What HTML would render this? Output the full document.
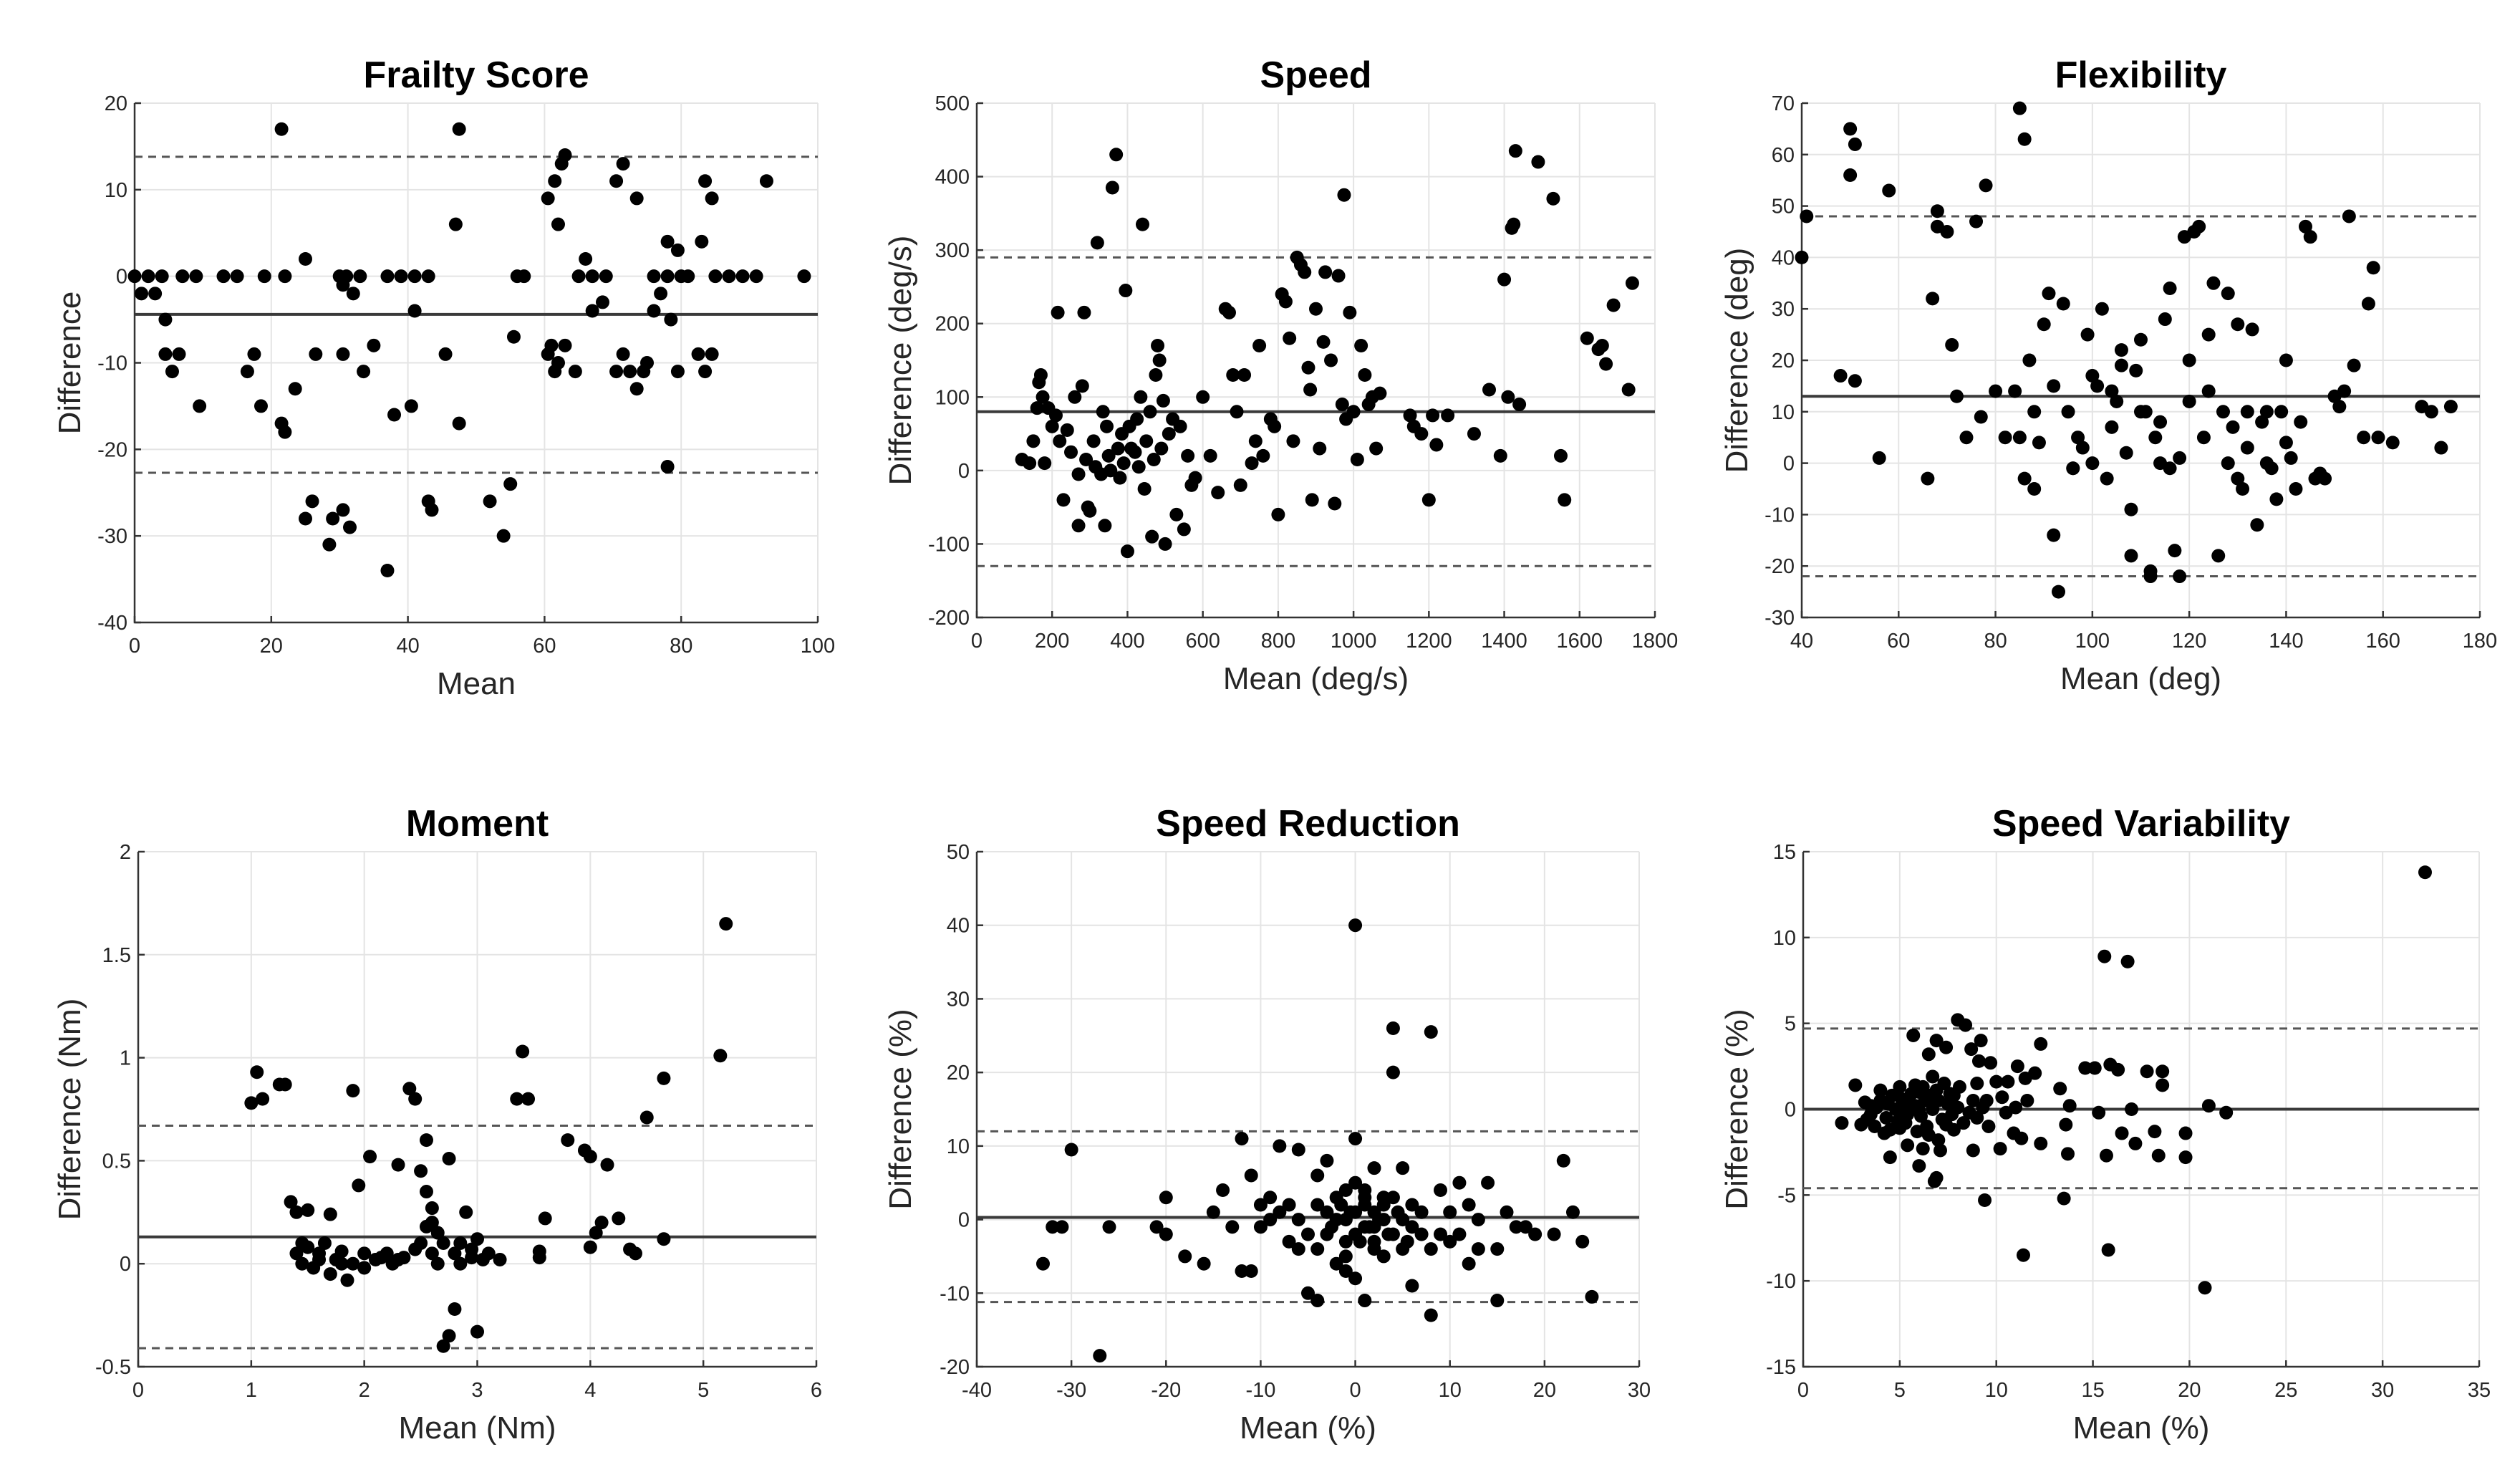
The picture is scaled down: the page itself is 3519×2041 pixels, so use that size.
<!DOCTYPE html>
<html><head><meta charset="utf-8"><style>
html,body{margin:0;padding:0;background:#fff}
svg{display:block;font-family:"Liberation Sans",Arial,sans-serif}
</style></head><body>
<svg id="fig" width="3519" height="2041" viewBox="0 0 3519 2041" xmlns="http://www.w3.org/2000/svg"></svg>
<script>
// ---- data arrays ----
const frailtyX=[0,1,2,3,4,4.5,4.5,5.5,6.5,7,9,9.5,13,15,16.5,17.5,18.5,19,21.5,21.5,22,22,23.5,25,25,26,26.5,28.5,29,30,30.5,30.5,30.5,31,31.5,32,33,33.5,35,37,37,38,39,40.5,41,41,43,43,43.5,45.5,47,47.5,47.5,52,54,55,55.5,56,57,60.5,60.5,61,61.5,61.5,62,62,62.5,63,63,64.5,65,66,67,67,68.5,69,70.5,70.5,71.5,71.5,72.5,73.5,73.5,74.5,75,76,76,77,78,78,78,78.5,79.5,79.5,80,81,82.5,83,83.5,83.5,84.5,84.5,85,87,89,91,92.5,98];
const frailtyY=[0,-2,0,-2,0,-5,-9,-11,-9,0,0,-15,0,0,-11,-9,-15,0,17,-17,-18,0,-13,2,-28,-26,-9,-31,-28,0,-1,-9,-27,0,-29,-2,0,-11,-8,0,-34,-16,0,-15,0,-4,0,-26,-27,-9,6,17,-17,-26,-30,-24,-7,0,0,9,-9,-8,11,-11,6,-10,13,14,-8,-11,0,2,0,-4,-3,0,11,-11,13,-9,-11,9,-13,-11,-10,0,-4,-2,4,0,-22,-5,3,-11,0,0,-9,4,11,-11,9,-9,0,0,0,0,11,0];
const frailtyLines=[-4.4,13.8,-22.7];

const speedX=[120,140,150,160,165,170,175,180,190,200,210,215,220,230,240,250,260,270,270,280,285,290,295,300,310,315,320,330,335,340,345,350,355,360,370,375,380,385,390,395,400,405,410,420,425,430,435,440,445,450,460,465,470,475,480,485,490,495,500,510,520,530,540,550,560,570,580,600,620,640,660,670,680,690,700,710,730,740,750,760,780,790,800,810,820,830,840,850,860,870,880,885,890,900,910,920,925,940,950,960,970,975,980,990,1000,1010,1020,1030,1040,1050,1060,1070,1150,1160,1180,1200,1210,1220,1250,1320,1360,1390,1400,1410,1420,1425,1430,1440,1490,1530,1550,1560,1620,1650,1670,1690,1730,1740,1660];
const speedY=[15,10,40,85,120,130,100,10,85,60,75,215,40,-40,55,25,100,-5,-75,115,215,15,-50,-55,40,5,310,-5,80,-75,60,20,0,385,430,30,-10,50,10,245,-110,60,30,25,70,5,100,335,-25,40,80,-90,15,130,170,150,30,95,-100,50,70,-60,60,-80,20,-20,-10,100,20,-30,220,215,130,80,-20,130,10,40,170,20,70,60,-60,240,230,180,40,290,280,270,140,110,-40,220,30,175,270,150,-45,265,90,375,70,215,80,15,170,130,90,100,30,105,75,60,50,-40,75,35,75,50,110,20,260,100,330,335,435,90,420,370,20,-40,180,165,145,225,110,255,170];
const speedLines=[80,290,-130];

const flexX=[40,41,48,50,50,51,51,56,58,66,67,68,68,70,71,72,74,76,77,78,85,86,84,85,86,87,88,88,89,90,91,92,93,94,95,96,97,98,99,100,101,102,103,104,105,106,107,108,108,109,110,111,112,112,113,114,115,116,117,118,119,120,121,122,123,124,125,126,127,128,129,130,131,132,133,134,135,136,137,138,139,140,141,142,143,144,145,146,148,150,151,152,153,154,156,157,158,159,162,168,170,172,174,80,82,92,96,100,104,106,110,114,116,118,120,124,128,130,132,136,140,147];
const flexY=[40,48,17,65,56,62,16,1,53,-3,32,49,46,45,23,13,5,47,9,54,69,63,14,5,-3,20,10,-5,4,27,33,-14,-25,31,10,-1,5,3,25,0,15,30,-3,7,12,22,2,-9,-18,18,24,10,-21,-22,5,8,28,34,-17,-22,44,20,45,46,5,25,35,-18,10,33,7,27,-5,3,26,-12,8,0,-1,-7,10,20,1,-5,8,46,44,-3,-3,13,11,14,48,19,5,31,38,5,4,11,10,3,11,14,5,15,-1,17,14,19,10,0,-1,1,12,14,0,-3,10,10,4,-2];
const flexLines=[13,48,-22];

const momentX=[1.0,1.05,1.1,1.25,1.3,1.35,1.4,1.4,1.45,1.5,1.5,1.55,1.6,1.65,1.7,1.7,1.75,1.8,1.85,1.9,1.9,1.95,2.0,2.05,2.1,2.2,2.25,2.3,2.35,2.4,2.45,2.5,2.5,2.55,2.55,2.6,2.6,2.65,2.7,2.75,2.75,2.8,2.8,2.85,2.9,2.95,3.0,3.0,3.1,3.2,3.35,3.4,3.45,3.55,3.6,3.8,3.95,4.0,4.0,4.05,4.1,4.15,4.25,4.35,4.4,4.5,4.65,4.65,5.15,5.2,1.6,1.8,2.0,2.15,2.3,2.45,2.7,2.85,2.95,3.05,1.45,2.55,2.6,2.65,3.55];
const momentY=[0.78,0.93,0.8,0.87,0.87,0.3,0.05,0.25,0.0,0.26,0.08,-0.02,0.05,0.1,-0.05,0.24,0.02,0.06,-0.08,0.0,0.84,0.38,0.05,0.52,0.02,0.05,0.0,0.48,0.03,0.85,0.8,0.45,0.1,0.6,0.18,0.05,0.27,0.15,-0.4,0.51,-0.35,-0.22,0.05,0.1,0.25,0.03,-0.33,0.12,0.05,0.02,0.8,1.03,0.8,0.03,0.22,0.6,0.55,0.52,0.08,0.15,0.2,0.48,0.22,0.07,0.05,0.71,0.9,0.12,1.01,1.65,0.02,0.0,-0.02,0.03,0.02,0.07,0.1,0.0,0.07,0.02,0.1,0.35,0.2,0.0,0.06];
const momentLines=[0.13,0.67,-0.41];

const redX=[-33,-32,-31,-30,-27,-26,-21,-20,-20,-18,-16,-15,-14,-13,-12,-12,-11,-11,-10,-9,-8,-7,-6,-6,-5,-4,-4,-3,-3,-2,-2,-1,-1,0,0,0,0,1,1,2,2,3,3,4,4,4,5,5,6,6,7,8,8,9,10,10,11,12,13,14,15,15,16,18,21,22,23,24,25,-1,1,2,3,-3,-4,-5,-6,-7,-8,-9,-10,5,6,7,8,-2,0,1,2,3,4,-1,-4,12,9,11,13,17,19,-0.5,0.5,1.5,2.5,3.5,-1.5,-2.5,4.5,5.5,0,1,2,-1,3];
const redY=[-6,-1,-1,9.5,-18.5,-1,-1,3,-2,-5,-6,1,4,-1,11,-7,-7,6,2,0,10,2,9.5,-4,-10,-11,6,-2,8,3,-6,-3,-7,40,11,-8,1,-11,2,-3,7,0,-5,20,26,3,-4,7,-9,2,-2,25.5,-13,4,-3,1,-2,-6,0,5,-4,-11,1,-1,-2,8,1,-3,-10.5,0,-1,1,3,1,2,-2,0,-3,1,3,-1,0,-1,1,-4,0,-2,3,-1,2,-2,4,-4,2,-2,5,-4,-1,-2,1,-3,-1,0,-2,2,-1,1,-3,5,4,-4,-5,3];
const redLines=[0.3,12,-11.2];

const varX=[2,2.7,3,3.2,3.5,3.7,4,4.2,4.5,4.6,5,5,5.2,5.4,5.7,5.8,5.9,6,6.2,6.5,6.7,6.8,6.9,6.9,7,7.1,7.3,7.4,7.8,8,8.1,8.4,8.7,8.8,9,9.1,9.2,9.4,9.6,9.7,10,10.2,10.3,10.5,10.6,10.9,11,11.1,11.3,11.4,11.5,11.6,12,12.3,12.3,13.3,13.5,13.6,13.7,13.8,14.6,15.1,15.3,15.6,15.7,15.8,15.9,16.3,16.5,16.8,17,17.2,17.8,18.2,18.4,18.6,18.6,19.8,19.8,20.8,21,21.9,32.2,3.5,4,4.3,4.8,5.1,5.3,5.6,5.8,6,6.1,6.3,6.4,6.6,6.7,7,7.2,7.5,7.7,8,8.3,8.6,9,9.3,5.5,4.5,6.2,7.8,5,6.5,3.8,8.8,9.5,4.4,5.4,6.4,7.4,5.9,6.9,4.9,3.3,7.6,6.0];
const varY=[-0.8,1.4,-0.9,0.4,-0.3,-1,1.1,-1.4,-2.8,0.8,1.3,-0.5,0.2,-2.1,4.3,1.4,-1.3,-3.3,-2.3,3.2,1.9,-4.2,-4,4,-1.8,-2.4,1.5,3.6,-1.2,5.2,1.3,4.9,3.5,-2.4,1.5,2.8,4,-5.3,-1,2.7,1.6,-2.3,0.7,-0.2,1.6,-1.4,0.1,2.5,-1.7,-8.5,1.8,0.5,2.1,3.8,-2,1.2,-5.2,-0.9,-2.6,0.2,2.4,2.4,-0.2,8.9,-2.7,-8.2,2.6,2.3,-1.4,8.6,0,-2,2.2,-1.3,-2.7,2.2,1.4,-1.4,-2.8,-10.4,0.2,-0.2,13.8,0.2,0.5,-0.5,0,0.6,-0.8,0.9,0.2,1,-0.4,0.5,-1,0.8,0,0.5,-0.6,0.3,-0.3,0.1,-0.8,-0.2,-0.5,0.1,0.4,-1.2,1.3,0.8,-1.1,-1.5,0.1,0.5,0.5,0.3,-0.3,0.6,-0.9,1.2,1.1,-0.7,-0.6,0.9,-0.1];
const varLines=[0,4.7,-4.6];

const NS='http://www.w3.org/2000/svg';
const svg=document.getElementById('fig');
function mk(tag,attrs,parent){const e=document.createElementNS(NS,tag);for(const k in attrs)e.setAttribute(k,attrs[k]);(parent||svg).appendChild(e);return e;}

function panel(o){
  const g=mk('g',{});
  
  
  const sx=v=>o.x0+(v-o.xmin)/(o.xmax-o.xmin)*(o.x1-o.x0);
  const sy=v=>o.y1-(v-o.ymin)/(o.ymax-o.ymin)*(o.y1-o.y0);
  o.xticks.forEach(t=>{mk('line',{x1:sx(t),x2:sx(t),y1:o.y0,y2:o.y1,stroke:'#e4e4e4','stroke-width':2},g);});
  o.yticks.forEach(t=>{mk('line',{x1:o.x0,x2:o.x1,y1:sy(t),y2:sy(t),stroke:'#e4e4e4','stroke-width':2},g);});
  const ax=mk('path',{d:`M${o.x0},${o.y0} V${o.y1} H${o.x1}`,fill:'none',stroke:'#333','stroke-width':2.5},g);
  
  
  o.xticks.forEach(t=>{
    mk('line',{x1:sx(t),x2:sx(t),y1:o.y1,y2:o.y1-9,stroke:'#333','stroke-width':2.5},g);
    const tx=mk('text',{x:sx(t),y:o.y1+42,'font-size':29,fill:'#262626','text-anchor':'middle'},g);
    tx.textContent=t;
    
    
  });
  o.yticks.forEach(t=>{
    mk('line',{x1:o.x0,x2:o.x0+9,y1:sy(t),y2:sy(t),stroke:'#333','stroke-width':2.5},g);
    const ty=mk('text',{x:o.x0-10,y:sy(t)+10,'font-size':29,fill:'#262626','text-anchor':'end'},g);
    ty.textContent=t;
    
    
  });
  o.lines.forEach((v,i)=>{
    const l=mk('line',{x1:o.x0,x2:o.x1,y1:sy(v),y2:sy(v),stroke:i===0?'#3a3a3a':'#555','stroke-width':i===0?4:3,'stroke-dasharray':i===0?'none':'11 8'},g);
    
    
  });
  o.xs.forEach((x,i)=>{
    const c=mk('circle',{cx:sx(x),cy:sy(o.ys[i]),r:9.5,fill:'#000'},g);
    
    
  });
  const cx=(o.x0+o.x1)/2;
  const ti=mk('text',{x:cx,y:o.y0-22,'font-size':52,'font-weight':'bold',fill:'#000','text-anchor':'middle'},g);
  ti.textContent=o.title;
  
  
  const xl=mk('text',{x:cx,y:o.y1+100,'font-size':44,fill:'#262626','text-anchor':'middle'},g);
  xl.textContent=o.xlabel;
  
  
  const yc=(o.y0+o.y1)/2;
  const yl=mk('text',{x:0,y:0,'font-size':44,fill:'#262626','text-anchor':'middle',transform:`translate(${o.ylx},${yc}) rotate(-90)`},g);
  yl.textContent=o.ylabel;
  
  
}
function range(a,b,s){const r=[];for(let v=a;v<=b+1e-9;v+=s)r.push(Math.round(v*100)/100);return r;}

panel({name:'frailty',title:'Frailty Score',xlabel:'Mean',ylabel:'Difference',x0:188,x1:1142,y0:144,y1:869,xmin:0,xmax:100,ymin:-40,ymax:20,xticks:range(0,100,20),yticks:range(-40,20,10),xs:frailtyX,ys:frailtyY,lines:frailtyLines,ylx:112});
panel({name:'speed',title:'Speed',xlabel:'Mean (deg/s)',ylabel:'Difference (deg/s)',x0:1364,x1:2311,y0:144,y1:862,xmin:0,xmax:1800,ymin:-200,ymax:500,xticks:range(0,1800,200),yticks:range(-200,500,100),xs:speedX,ys:speedY,lines:speedLines,ylx:1272});
panel({name:'flexibility',title:'Flexibility',xlabel:'Mean (deg)',ylabel:'Difference (deg)',x0:2516,x1:3463,y0:144,y1:862,xmin:40,xmax:180,ymin:-30,ymax:70,xticks:range(40,180,20),yticks:range(-30,70,10),xs:flexX,ys:flexY,lines:flexLines,ylx:2440});
panel({name:'moment',title:'Moment',xlabel:'Mean (Nm)',ylabel:'Difference (Nm)',x0:193,x1:1140,y0:1189,y1:1908,xmin:0,xmax:6,ymin:-0.5,ymax:2,xticks:range(0,6,1),yticks:range(-0.5,2,0.5),xs:momentX,ys:momentY,lines:momentLines,ylx:112});
panel({name:'speed-reduction',title:'Speed Reduction',xlabel:'Mean (%)',ylabel:'Difference (%)',x0:1364,x1:2289,y0:1189,y1:1908,xmin:-40,xmax:30,ymin:-20,ymax:50,xticks:range(-40,30,10),yticks:range(-20,50,10),xs:redX,ys:redY,lines:redLines,ylx:1272});
panel({name:'speed-variability',title:'Speed Variability',xlabel:'Mean (%)',ylabel:'Difference (%)',x0:2518,x1:3462,y0:1189,y1:1908,xmin:0,xmax:35,ymin:-15,ymax:15,xticks:range(0,35,5),yticks:range(-15,15,5),xs:varX,ys:varY,lines:varLines,ylx:2440});
</script>
</body></html>
